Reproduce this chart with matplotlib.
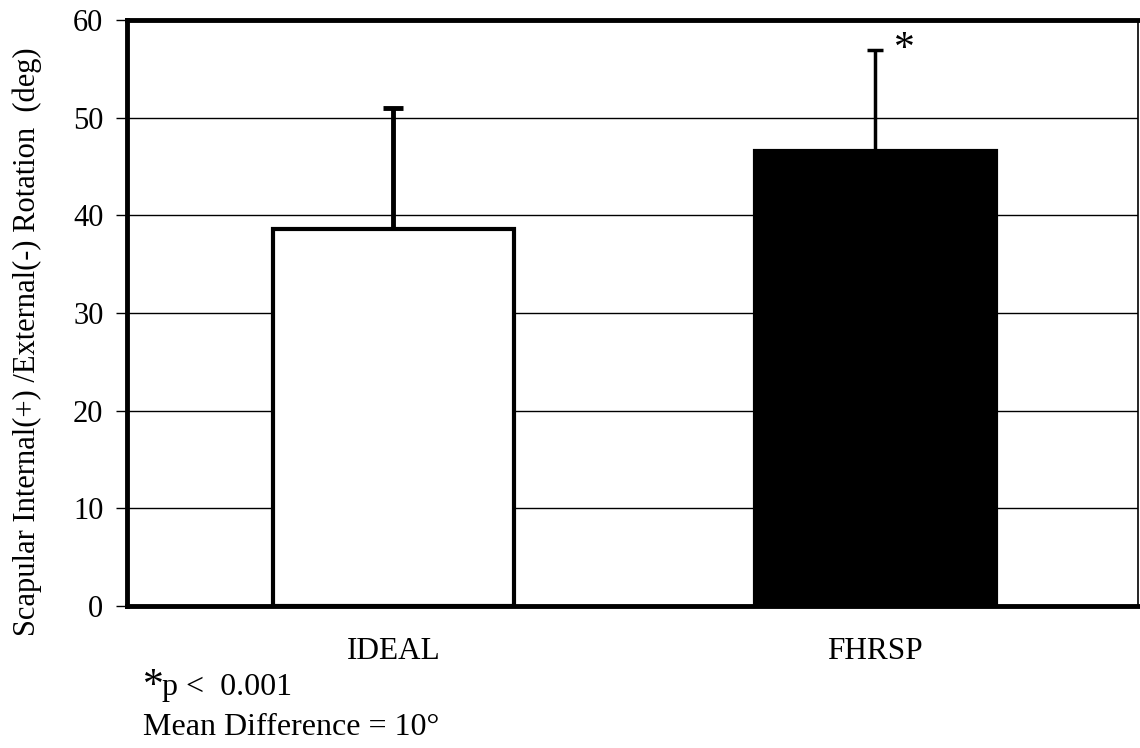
import matplotlib
matplotlib.use("Agg")
import matplotlib.pyplot as plt
import numpy as np

plt.rcParams['font.family'] = ['Liberation Serif', 'DejaVu Serif']

categories = ["IDEAL", "FHRSP"]
means = [38.6, 46.6]
sd = [12.4, 10.3]
colors = ["white", "black"]
yticks = [0, 10, 20, 30, 40, 50, 60]

fig = plt.figure(figsize=(11.4, 7.48), dpi=100)
ax = fig.add_axes([127/1140, 1-606/748, (1138-127)/1140, (606-20)/748])

x = np.arange(len(categories))
ax.set_axisbelow(True)
ax.yaxis.grid(True, color="black", linewidth=1.0)
ax.bar(x, means, width=0.5, color=colors, edgecolor="black", linewidth=3, zorder=2)
# error bars (upper only)
ax.errorbar(x[0], means[0], yerr=[[0], [sd[0]]], fmt="none", ecolor="black",
            elinewidth=3.5, capsize=7, capthick=3.5, zorder=1)
ax.errorbar(x[1], means[1], yerr=[[0], [sd[1]]], fmt="none", ecolor="black",
            elinewidth=2.5, capsize=6, capthick=2.5, zorder=1)

ax.text(x[1] + 0.06, means[1] + sd[1] + 0.1, "*", fontsize=30, ha="center", va="center")

ax.set_xlim(-0.553, 1.545)
ax.set_ylim(0, 60)
ax.set_yticks(yticks)
ax.set_xticks(x)
ax.set_xticklabels(categories)
ax.tick_params(axis="x", length=0, pad=22, labelsize=22.5)
ax.tick_params(axis="y", direction="out", length=8, width=1, pad=9, labelsize=22)

for s in ["left", "top", "bottom"]:
    ax.spines[s].set_linewidth(3.5)
ax.spines["right"].set_linewidth(1.2)

ax.set_ylabel("Scapular Internal(+) /External(-) Rotation  (deg)", fontsize=22, va="center")
ax.yaxis.set_label_coords((27-127)/1011, (606-342)/586)

fig.text(143/1140, 1-697/748, "*", fontsize=30, ha="left", va="baseline")
fig.text(162/1140, 1-695/748, "p <  0.001", fontsize=23, ha="left", va="baseline")
fig.text(143/1140, 1-735/748, "Mean Difference = 10\u00b0", fontsize=23, ha="left", va="baseline")

fig.savefig("out.png", dpi=100)
